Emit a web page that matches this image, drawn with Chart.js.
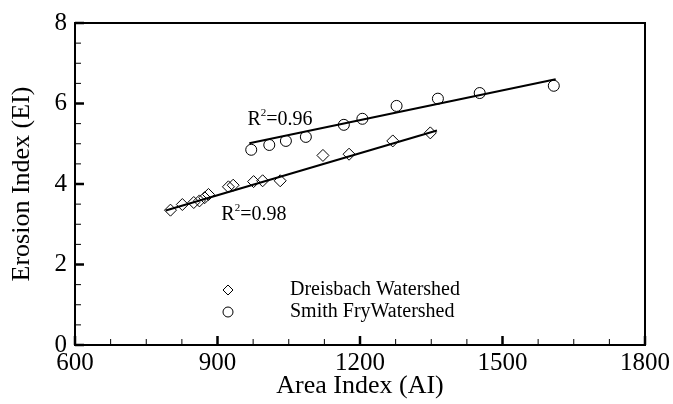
<!DOCTYPE html>
<html>

<head>
    <meta charset="UTF-8">
    <title>Erosion Index vs Area Index</title>
    <script src="https://cdn.jsdelivr.net/npm/chart.js"></script>
    <style>
        html, body { margin: 0; padding: 0; background: #fff; }
        #wrap { width: 673px; height: 404px; }
    </style>
</head>

<body>
    <div id="wrap"><canvas id="chart"></canvas></div>
    <script>
        // Dreisbach watershed (diamonds)
        var dreisbachAI = [801, 826, 850, 862, 873, 881, 923, 933, 976, 995, 1032, 1122, 1177, 1269, 1348];
        var dreisbachEI = [3.35, 3.49, 3.54, 3.58, 3.66, 3.74, 3.93, 3.97, 4.06, 4.08, 4.08, 4.71, 4.74, 5.07, 5.27];
        // Smith Fry watershed (circles)
        var smithAI = [971, 1009, 1044, 1086, 1166, 1205, 1277, 1364, 1452, 1608];
        var smithEI = [4.85, 4.97, 5.07, 5.17, 5.47, 5.62, 5.94, 6.12, 6.26, 6.44];
        // fitted lines, end points
        var fitDreisbachAI = [791, 1362];
        var fitDreisbachEI = [3.34, 5.33];
        var fitSmithAI = [967, 1612];
        var fitSmithEI = [5.01, 6.60];
        // annotations
        var r2Labels = ['0.98', '0.96'];
        var r2AtAI = [908, 963];
        var r2AtEI = [3.11, 5.47];
        var seriesNames = ['Dreisbach Watershed', 'Smith FryWatershed'];

        var xTicks = [600, 900, 1200, 1500, 1800];
        var yTicks = [0, 2, 4, 6, 8];

        var serif = "'Liberation Serif', 'Times New Roman', serif";

        function pts(xs, ys) {
            return xs.map(function (x, i) { return { x: x, y: ys[i] }; });
        }

        // frame + inward ticks, R² labels and the legend
        var decorations = {
            id: 'decorations',
            afterDraw: function (chart) {
                var ctx = chart.ctx;
                var a = chart.chartArea;
                var sx = chart.scales.x, sy = chart.scales.y;
                ctx.save();
                ctx.strokeStyle = '#000';
                ctx.lineWidth = 2;
                ctx.strokeRect(a.left, a.top, a.right - a.left, a.bottom - a.top);

                sx.ticks.forEach(function (t) {
                    var px = sx.getPixelForValue(t.value);
                    var major = xTicks.indexOf(t.value) >= 0;
                    ctx.lineWidth = major ? 2.5 : 1;
                    ctx.beginPath();
                    ctx.moveTo(px, a.bottom);
                    ctx.lineTo(px, a.bottom - (major ? 9 : 6));
                    ctx.stroke();
                });
                sy.ticks.forEach(function (t) {
                    var py = sy.getPixelForValue(t.value);
                    var major = yTicks.indexOf(t.value) >= 0;
                    ctx.lineWidth = major ? 2.5 : 1;
                    ctx.beginPath();
                    ctx.moveTo(a.left, py);
                    ctx.lineTo(a.left + (major ? 9 : 6), py);
                    ctx.stroke();
                });

                // R² labels
                ctx.fillStyle = '#000';
                ctx.textBaseline = 'alphabetic';
                ctx.textAlign = 'left';
                r2Labels.forEach(function (lab, i) {
                    var x = sx.getPixelForValue(r2AtAI[i]);
                    var y = sy.getPixelForValue(r2AtEI[i]);
                    ctx.font = '20px ' + serif;
                    ctx.fillText('R', x, y);
                    var w = ctx.measureText('R').width;
                    ctx.font = '11px ' + serif;
                    ctx.fillText('2', x + w, y - 9);
                    var w2 = ctx.measureText('2').width;
                    ctx.font = '20px ' + serif;
                    ctx.fillText('=' + lab, x + w + w2, y);
                });

                // legend
                var lx = 228, ly = [290, 312];
                ctx.lineWidth = 1;
                ctx.beginPath();
                ctx.moveTo(lx, ly[0] - 5);
                ctx.lineTo(lx + 5, ly[0]);
                ctx.lineTo(lx, ly[0] + 5);
                ctx.lineTo(lx - 5, ly[0]);
                ctx.closePath();
                ctx.stroke();
                ctx.beginPath();
                ctx.arc(lx, ly[1], 5, 0, Math.PI * 2);
                ctx.stroke();
                ctx.font = '20px ' + serif;
                ctx.textBaseline = 'middle';
                ctx.fillText(seriesNames[0], 290, ly[0]);
                ctx.fillText(seriesNames[1], 290, ly[1]);
                ctx.restore();
            }
        };

        var ctx = document.getElementById('chart').getContext('2d');
        var chart = new Chart(ctx, {
            type: 'scatter',
            data: {
                datasets: [
                    {
                        label: seriesNames[0],
                        data: pts(dreisbachAI, dreisbachEI),
                        pointStyle: 'rectRot',
                        pointRadius: 6,
                        borderColor: '#000',
                        borderWidth: 1,
                        backgroundColor: 'rgba(0,0,0,0)',
                    },
                    {
                        label: seriesNames[1],
                        data: pts(smithAI, smithEI),
                        pointStyle: 'circle',
                        pointRadius: 5.5,
                        borderColor: '#000',
                        borderWidth: 1,
                        backgroundColor: 'rgba(0,0,0,0)',
                    },
                    {
                        type: 'line',
                        data: pts(fitDreisbachAI, fitDreisbachEI),
                        borderColor: '#000',
                        borderWidth: 2,
                        pointRadius: 0,
                        fill: false,
                    },
                    {
                        type: 'line',
                        data: pts(fitSmithAI, fitSmithEI),
                        borderColor: '#000',
                        borderWidth: 2,
                        pointRadius: 0,
                        fill: false,
                    },
                ],
            },
            options: {
                responsive: true,
                maintainAspectRatio: false,
                animation: false,
                layout: { padding: { top: 15, right: 27, left: 0, bottom: 0 } },
                plugins: {
                    legend: { display: false },
                    tooltip: { enabled: false },
                },
                scales: {
                    x: {
                        type: 'linear',
                        min: 600,
                        max: 1800,
                        afterFit: function (s) { s.height = 59; },
                        grid: { display: false, drawTicks: false },
                        border: { display: false },
                        ticks: {
                            stepSize: 75,
                            autoSkip: false,
                            maxRotation: 0,
                            padding: 3,
                            color: '#000',
                            font: { family: serif, size: 25 },
                            callback: function (v) { return xTicks.indexOf(v) >= 0 ? v : ''; },
                        },
                        title: {
                            display: true,
                            text: 'Area Index (AI)',
                            color: '#000',
                            font: { family: serif, size: 26 },
                            padding: { top: 0, bottom: 2 },
                        },
                    },
                    y: {
                        min: 0,
                        max: 8,
                        afterFit: function (s) { s.width = 75; },
                        grid: { display: false, drawTicks: false },
                        border: { display: false },
                        ticks: {
                            stepSize: 0.5,
                            autoSkip: false,
                            padding: 8,
                            color: '#000',
                            font: { family: serif, size: 25 },
                            callback: function (v) { return yTicks.indexOf(v) >= 0 ? v : ''; },
                        },
                        title: {
                            display: true,
                            text: 'Erosion Index (EI)',
                            color: '#000',
                            font: { family: serif, size: 26 },
                            padding: { top: 7, bottom: 0 },
                        },
                    },
                },
            },
            plugins: [decorations],
        });
    </script>
</body>

</html>
